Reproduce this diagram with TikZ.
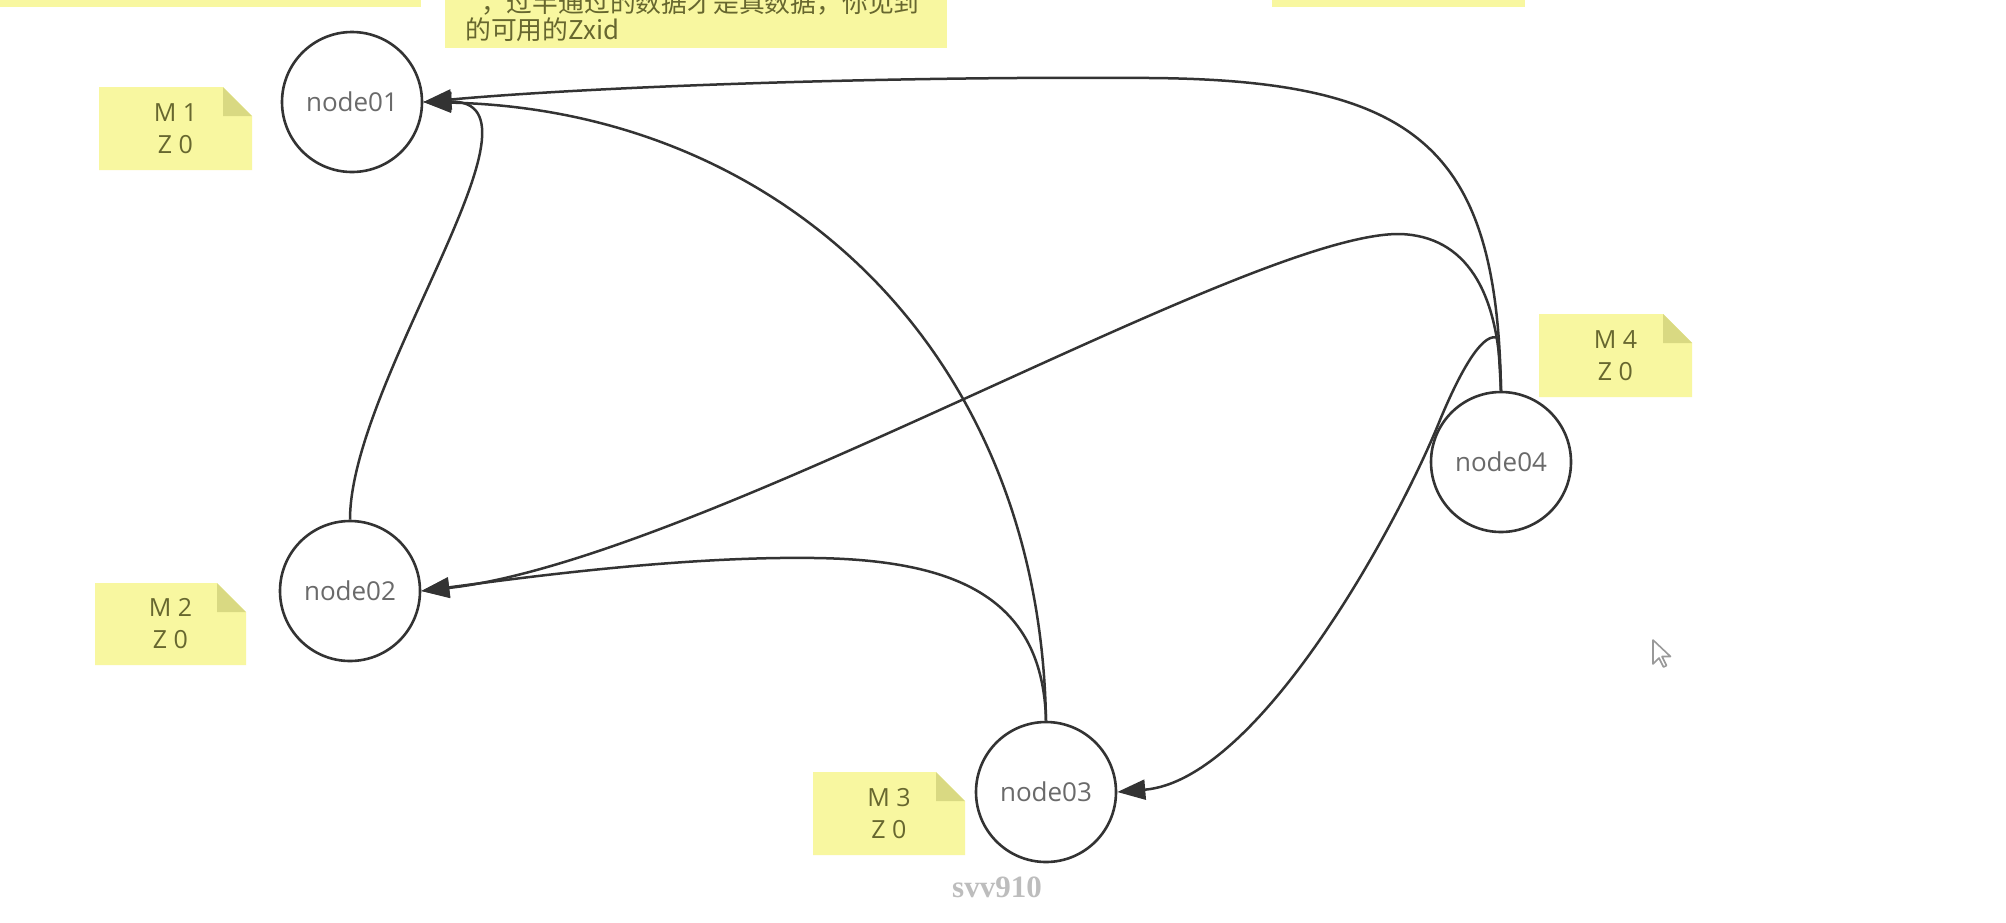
\documentclass[tikz,border=0pt]{standalone}
\usepackage{fontspec}
\setmainfont{Open Sans}
\newfontfamily\cjkfont{Noto Sans CJK SC}
\newfontfamily\markfont{Liberation Serif}
\usetikzlibrary{arrows.meta}

\definecolor{edgegray}{HTML}{333333}
\definecolor{labelgray}{HTML}{6A6A6A}
\definecolor{noteyellow}{HTML}{F8F7A0}
\definecolor{notefold}{HTML}{D9D982}
\definecolor{noteink}{HTML}{67672F}
\definecolor{markgray}{HTML}{BDBDBD}

\tikzset{
  vertex/.style={circle, draw=edgegray, line width=2.6pt, fill=white,
    minimum size=140pt, inner sep=0pt, text=labelgray,
    font=\fontsize{26}{30}\selectfont},
  edge/.style={draw=edgegray, line width=2.5pt,
    -{Triangle[length=28pt,width=20pt]}},
  notetext/.style={align=center, text=noteink, inner sep=0pt,
    font=\fontsize{25}{32}\selectfont},
  boxtext/.style={anchor=base west, text=noteink, inner sep=0pt,
    font=\cjkfont\fontsize{25.8}{29}\selectfont},
}

% sticky note: #1 name, #2 left, #3 top, #4 right, #5 bottom, #6 label
\newcommand\drawnote[6]{%
  \fill[noteyellow] (#2,#3) -- (#4-29,#3) -- (#4,#3+29) -- (#4,#5) -- (#2,#5) -- cycle;
  \fill[notefold] (#4-29,#3) -- (#4-29,#3+29) -- (#4,#3+29) -- cycle;
  \node[notetext] (#1) at ({(#2+#4)/2},{(#3+#5)/2}) {#6};
}

\begin{document}
\begin{tikzpicture}[x=1pt,y=-1pt]
\useasboundingbox (0,0) rectangle (2006,922);
\clip (0,0) rectangle (2006,922);
\fill[white] (0,0) rectangle (2006,922);

% annotation boxes along the top edge
\fill[noteyellow] (0,0) rectangle (421,7);
\fill[noteyellow] (1272,0) rectangle (1525,7);
\fill[noteyellow] (445,0) rectangle (947,48);
\node[boxtext] (remark1) at (455,12) {”，过半通过的数据才是真数据，你见到};
\node[boxtext] (remark2) at (465,39) {的可用的Zxid};

% servers
\node[vertex] (n1) at (352,102) {node01};
\node[vertex] (n2) at (350,591) {node02};
\node[vertex] (n3) at (1046,792) {node03};
\node[vertex] (n4) at (1501,462) {node04};

% state notes
\drawnote{m1}{99}{87}{252}{170}{M 1\\Z 0}
\drawnote{m2}{95}{583}{246}{665}{M 2\\Z 0}
\drawnote{m3}{813}{772}{965}{855}{M 3\\Z 0}
\drawnote{m4}{1539}{314}{1692}{397}{M 4\\Z 0}

% proposals
\draw[edge] (n4.north) .. controls (1497,150) and (1420,80) .. (1150,78)
  .. controls (900,76) and (600,86) .. (n1.east);
\draw[edge] (n3.north) .. controls (1040,350) and (780,110) .. (n1.east);
\draw[edge] (n2.north) .. controls (350,380) and (560,100) .. (n1.east);
\draw[edge] (n4.north) .. controls (1500,290) and (1465,236) .. (1400,234)
  .. controls (1250,232) and (700,560) .. (n2.east);
\draw[edge] (n3.north) .. controls (1043,600) and (960,560) .. (815,558)
  .. controls (680,556) and (520,578) .. (n2.east);
\draw[edge] (n4.north) -- (1498,338) .. controls (1485,332) and (1465,360) .. (1440,420)
  .. controls (1400,520) and (1260,780) .. (n3.east);

% watermark
\node[text=markgray, font=\markfont\bfseries\fontsize{31}{34}\selectfont] (wm) at (997,887) {svv910};

% mouse pointer
\draw[draw=gray!80, fill=white, line width=1.6pt, line join=round]
  (1653,640) -- ++(0,24) -- ++(6,-6) -- ++(4.5,9) -- ++(3,-1.5) -- ++(-4.5,-9) -- ++(8.5,0) -- cycle;
\end{tikzpicture}
\end{document}
